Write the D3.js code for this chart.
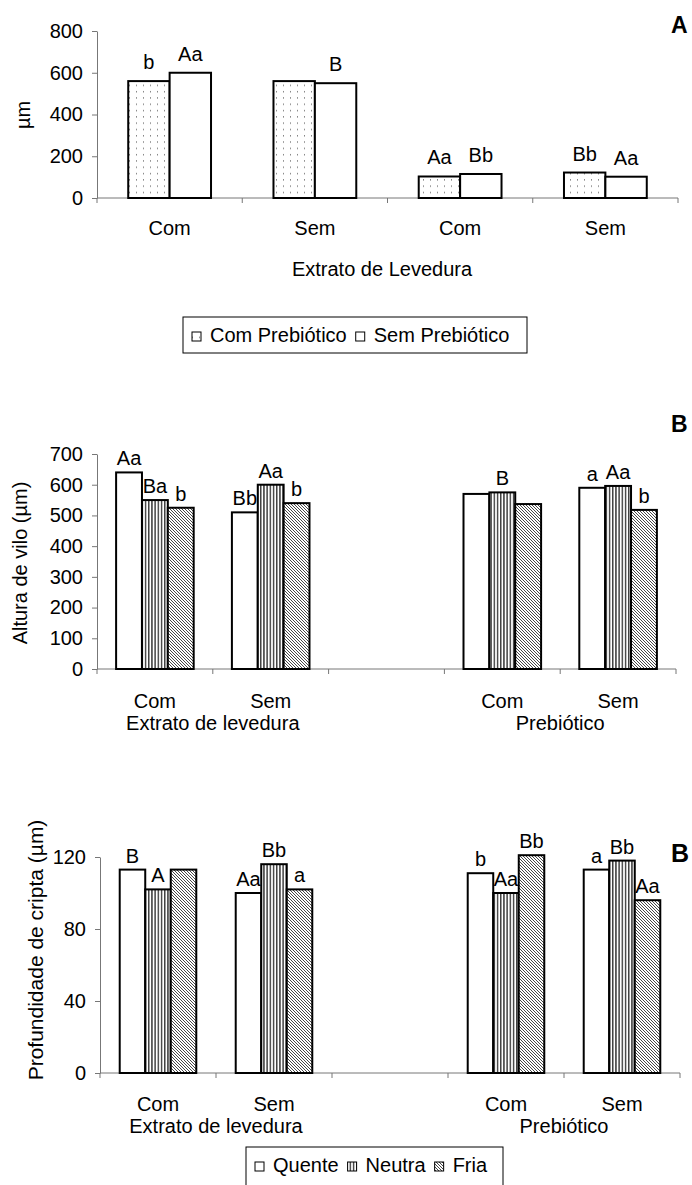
<!DOCTYPE html>
<html>
<head>
<meta charset="utf-8">
<script src="https://cdn.jsdelivr.net/npm/d3@7"></script>
<style>
  body { margin: 0; background: #fff; }
  text { font-family: "Liberation Sans", Arial, sans-serif; fill: #000; }
</style>
</head>
<body>
<div id="chart"></div>
<script>
// ---- panel A : µm by extrato de levedura ----
const catsA = ["Com", "Sem", "Com", "Sem"];
const comPrebiotico = [560, 560, 103, 122];
const semPrebiotico = [600, 550, 115, 102];
const lblComPre = ["b", "", "Aa", "Bb"];
const lblSemPre = ["Aa", "B", "Bb", "Aa"];
const ticksA = [0, 200, 400, 600, 800];
const seriesNamesA = ["Com Prebiótico", "Sem Prebiótico"];

// ---- panel B : altura de vilo ----
const catsB = ["Com", "Sem", "", "Com", "Sem"];
const groupLabels = ["Extrato de levedura", "Prebiótico"];
const vilQuente = [640, 510, null, 570, 590];
const vilNeutra = [550, 600, null, 575, 596];
const vilFria = [525, 540, null, 537, 518];
const lblVilQuente = ["Aa", "Bb", "", "", "a"];
const lblVilNeutra = ["Ba", "Aa", "", "B", "Aa"];
const lblVilFria = ["b", "b", "", "", "b"];
const ticksB = [0, 100, 200, 300, 400, 500, 600, 700];

// ---- panel C : profundidade de cripta ----
const criQuente = [113, 100, null, 111, 113];
const criNeutra = [102, 116, null, 100, 118];
const criFria = [113, 102, null, 121, 96];
const lblCriQuente = ["B", "Aa", "", "b", "a"];
const lblCriNeutra = ["A", "Bb", "", "Aa", "Bb"];
const lblCriFria = ["", "a", "", "Bb", "Aa"];
const ticksC = [0, 40, 80, 120];
const seriesNamesT = ["Quente", "Neutra", "Fria"];

const width = 692, height = 1185;
const svg = d3.select("#chart").append("svg")
  .attr("width", width).attr("height", height);

// fill patterns
const defs = svg.append("defs");
const dots = defs.append("pattern").attr("id", "dots")
  .attr("patternUnits", "userSpaceOnUse").attr("width", 7).attr("height", 6.3);
dots.append("rect").attr("width", 7).attr("height", 6.3).attr("fill", "#fff");
dots.append("rect").attr("x", 3).attr("y", 3).attr("width", 1).attr("height", 1).attr("fill", "#444");

const vlines = defs.append("pattern").attr("id", "vlines")
  .attr("patternUnits", "userSpaceOnUse").attr("width", 3.2).attr("height", 4);
vlines.append("rect").attr("width", 3.2).attr("height", 4).attr("fill", "#fff");
vlines.append("rect").attr("x", 1).attr("width", 1.1).attr("height", 4).attr("fill", "#000");

const diag = defs.append("pattern").attr("id", "diag")
  .attr("patternUnits", "userSpaceOnUse").attr("width", 3).attr("height", 3);
diag.append("rect").attr("width", 3).attr("height", 3).attr("fill", "#fff");
diag.append("path").attr("d", "M-1,-1L4,4M-1,2L1,4M2,-1L4,1")
  .attr("stroke", "#333").attr("stroke-width", 0.9);

const axisColor = "#777";

function panel(o) {
  const g = svg.append("g");
  const x = d3.scaleBand().domain(d3.range(o.cats.length)).range([o.x0, o.x1]);
  const bw = x.bandwidth();
  const inner = d3.scaleBand().domain(d3.range(o.series.length))
    .range([bw * o.pad, bw * (1 - o.pad)]);
  const y = d3.scaleLinear().domain([0, d3.max(o.ticks)]).range([o.yBase, o.yTop]);

  // y axis
  const ya = g.append("g").attr("transform", `translate(${o.x0},0)`)
    .call(d3.axisLeft(y).tickValues(o.ticks).tickSize(5).tickPadding(o.tickPad).tickSizeOuter(0));
  ya.select(".domain").attr("stroke", axisColor);
  ya.selectAll(".tick line").attr("stroke", axisColor);
  ya.selectAll(".tick text").style("font-size", o.tickFont + "px").attr("font-family", null);

  // x axis line + boundary ticks
  g.append("line").attr("x1", o.x0).attr("x2", o.x1)
    .attr("y1", o.yBase).attr("y2", o.yBase).attr("stroke", axisColor);
  const bounds = d3.range(o.cats.length).map(i => x(i)).concat([o.x1]);
  g.selectAll(".xt").data(bounds).join("line")
    .attr("x1", d => d).attr("x2", d => d)
    .attr("y1", o.yBase).attr("y2", o.yBase + 5).attr("stroke", axisColor);
  g.selectAll(".cat").data(o.cats).join("text")
    .attr("x", (d, i) => x(i) + bw / 2).attr("y", o.catY)
    .attr("text-anchor", "middle").style("font-size", o.catFont + "px")
    .text(d => d);

  // bars
  o.series.forEach((s, si) => {
    g.selectAll(null).data(s.values.map((v, i) => ({v, i})).filter(d => d.v != null))
      .join("rect")
      .attr("x", d => x(d.i) + inner(si))
      .attr("y", d => y(d.v))
      .attr("width", inner.bandwidth())
      .attr("height", d => o.yBase - y(d.v))
      .attr("fill", s.fill).attr("stroke", "#000").attr("stroke-width", 2);
    g.selectAll(null).data(s.labels.map((l, i) => ({l, i, v: s.values[i]})).filter(d => d.l))
      .join("text")
      .attr("x", d => x(d.i) + inner(si) + inner.bandwidth() / 2)
      .attr("y", d => y(d.v) - o.lblGap)
      .attr("text-anchor", "middle").style("font-size", o.lblFont + "px")
      .text(d => d.l);
  });

  // y title
  g.append("text")
    .attr("transform", `translate(${o.titleX},${o.titleY}) rotate(-90)`)
    .attr("text-anchor", "middle").style("font-size", o.titleFont + "px")
    .text(o.yTitle);

  // panel letter
  g.append("text").attr("x", 671).attr("y", o.letterY)
    .style("font-size", o.letterFont + "px").style("font-weight", "bold")
    .text(o.letter);
  return {x, bw};
}

function legend(items, bx, by, bw, bh, font, textY) {
  const g = svg.append("g");
  g.append("rect").attr("x", bx).attr("y", by).attr("width", bw).attr("height", bh)
    .attr("fill", "#fff").attr("stroke", "#000").attr("stroke-width", 1);
  let cx = bx + 9;
  items.forEach(it => {
    g.append("rect").attr("x", cx).attr("y", textY - 10).attr("width", 9).attr("height", 9)
      .attr("fill", it.fill).attr("stroke", "#000").attr("stroke-width", 1);
    const t = g.append("text").attr("x", cx + 18).attr("y", textY)
      .style("font-size", font + "px").text(it.name);
    cx += 18 + t.node().getComputedTextLength() + 9;
  });
}

// ---- panel A ----
panel({
  cats: catsA, x0: 97, x1: 678, yBase: 198, yTop: 31, pad: 0.215,
  ticks: ticksA, tickFont: 20, tickPad: 9, catFont: 20, catY: 235,
  lblFont: 20, lblGap: 12,
  series: [
    {values: comPrebiotico, labels: lblComPre, fill: "url(#dots)"},
    {values: semPrebiotico, labels: lblSemPre, fill: "#fff"}
  ],
  yTitle: "µm", titleX: 30, titleY: 115, titleFont: 20,
  letter: "A", letterY: 33, letterFont: 23
});
svg.append("text").attr("x", 382).attr("y", 276).attr("text-anchor", "middle")
  .style("font-size", "20px").text("Extrato de Levedura");
legend(seriesNamesA.map((n, i) => ({name: n, fill: i === 0 ? "url(#dots)" : "#fff"})),
  183, 317, 344, 36, 20, 342);

// ---- panel B ----
const pb = panel({
  cats: catsB, x0: 97, x1: 676, yBase: 669, yTop: 454, pad: 0.165,
  ticks: ticksB, tickFont: 20, tickPad: 9, catFont: 20, catY: 708,
  lblFont: 20, lblGap: 7,
  series: [
    {values: vilQuente, labels: lblVilQuente, fill: "#fff"},
    {values: vilNeutra, labels: lblVilNeutra, fill: "url(#vlines)"},
    {values: vilFria, labels: lblVilFria, fill: "url(#diag)"}
  ],
  yTitle: "Altura de vilo (µm)", titleX: 27, titleY: 563, titleFont: 20,
  letter: "B", letterY: 432, letterFont: 23
});
groupLabels.forEach((l, gi) => {
  svg.append("text").attr("x", pb.x(gi * 3) + pb.bw).attr("y", 730)
    .attr("text-anchor", "middle").style("font-size", "20px").text(l);
});

// ---- panel C ----
const pc = panel({
  cats: catsB, x0: 100, x1: 680, yBase: 1073, yTop: 857, pad: 0.17,
  ticks: ticksC, tickFont: 20, tickPad: 9, catFont: 20, catY: 1111,
  lblFont: 20, lblGap: 7,
  series: [
    {values: criQuente, labels: lblCriQuente, fill: "#fff"},
    {values: criNeutra, labels: lblCriNeutra, fill: "url(#vlines)"},
    {values: criFria, labels: lblCriFria, fill: "url(#diag)"}
  ],
  yTitle: "Profundidade de cripta (µm)", titleX: 43, titleY: 950, titleFont: 21,
  letter: "B", letterY: 862, letterFont: 25
});
groupLabels.forEach((l, gi) => {
  svg.append("text").attr("x", pc.x(gi * 3) + pc.bw).attr("y", 1133)
    .attr("text-anchor", "middle").style("font-size", "20px").text(l);
});
legend(seriesNamesT.map((n, i) => ({name: n, fill: ["#fff", "url(#vlines)", "url(#diag)"][i]})),
  246, 1147, 257, 40, 20, 1172);
</script>
</body>
</html>
